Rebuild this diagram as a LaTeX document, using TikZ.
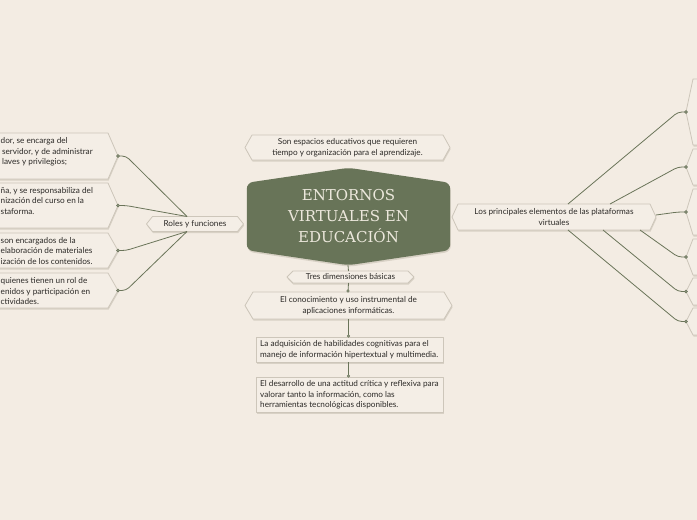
\documentclass[tikz,border=0pt]{standalone}
\usepackage{fontspec}
\setmainfont{Lato}
\newfontfamily\titlefont{DejaVu Serif}
\usetikzlibrary{positioning}
\definecolor{bgc}{HTML}{F3ECE3}
\definecolor{boxfill}{HTML}{F4EEE6}
\definecolor{boxdraw}{HTML}{CDC6BA}
\definecolor{shadowc}{HTML}{D8D1C5}
\definecolor{olive}{HTML}{6A7459}
\definecolor{central}{HTML}{687458}
\definecolor{titlec}{HTML}{ECE8DC}
\definecolor{textc}{HTML}{2C2A27}
\pgfdeclarelayer{bgl}
\pgfdeclarelayer{shp}
\pgfsetlayers{bgl,shp,main}
\newcommand\hexshape[2]{%
  \begin{pgfonlayer}{shp}
  \path[fill=shadowc,transform canvas={xshift=0.6pt,yshift=-1.6pt}] (#1.west) -- ([xshift=#2pt]#1.north west) -- ([xshift=-#2pt]#1.north east) -- (#1.east) -- ([xshift=-#2pt]#1.south east) -- ([xshift=#2pt]#1.south west) -- cycle;
  \path[boxst] (#1.west) -- ([xshift=#2pt]#1.north west) -- ([xshift=-#2pt]#1.north east) -- (#1.east) -- ([xshift=-#2pt]#1.south east) -- ([xshift=#2pt]#1.south west) -- cycle;
  \end{pgfonlayer}}
\newcommand\rectshape[1]{%
  \begin{pgfonlayer}{shp}
  \path[fill=shadowc,transform canvas={xshift=0.6pt,yshift=-1.6pt}] (#1.north west) rectangle (#1.south east);
  \path[boxst] (#1.north west) rectangle (#1.south east);
  \end{pgfonlayer}}
\begin{document}
\begin{tikzpicture}[x=1pt,y=-1pt,
  boxst/.style={fill=boxfill,draw=boxdraw,line width=0.8pt,line join=round},
  frame/.style={inner sep=0pt,outer sep=0pt,align=center,text=textc,font=\fontsize{8.2}{10.5}\selectfont},
  lefttext/.style={inner sep=0pt,anchor=west,align=left,text=textc,font=\fontsize{8.2}{10.5}\selectfont},
  conn/.style={draw=olive,line width=0.8pt,rounded corners=4pt},
  dotst/.style={fill=olive!75,draw=olive,line width=0.4pt}]
\begin{pgfonlayer}{bgl}
\fill[bgc] (0,0) rectangle (697,520);
\end{pgfonlayer}
\useasboundingbox (0,0) rectangle (697,520);

% central
\node[inner sep=0pt,minimum width=203pt,minimum height=97pt,align=center,text=titlec,font=\titlefont\fontsize{15}{21}\selectfont] (c) at (348.5,216.5) {ENTORNOS\\VIRTUALES EN\\EDUCACIÓN};
\begin{pgfonlayer}{shp}
\path[fill=shadowc,rounded corners=6pt,transform canvas={xshift=0.6pt,yshift=-1.6pt}] (c.north) -- ([yshift=-15pt]c.north east) -- ([yshift=15pt]c.south east) -- (c.south) -- ([yshift=15pt]c.south west) -- ([yshift=-15pt]c.north west) -- cycle;
\path[fill=central,rounded corners=6pt] (c.north) -- ([yshift=-15pt]c.north east) -- ([yshift=15pt]c.south east) -- (c.south) -- ([yshift=15pt]c.south west) -- ([yshift=-15pt]c.north west) -- cycle;
\end{pgfonlayer}

% top
\node[frame,minimum width=205pt,minimum height=25pt] (top) at (347.5,147.5) {Son espacios educativos que requieren\\tiempo y organización para el aprendizaje.};
\hexshape{top}{7}

% roles
\node[frame,minimum width=97pt,minimum height=15pt] (roles) at (195,224) {Roles y funciones};
\hexshape{roles}{6}

% principales
\node[frame,minimum width=204pt,minimum height=26pt] (lp) at (554,217) {Los principales elementos de las plataformas\\virtuales};
\hexshape{lp}{6}

% tres dimensiones
\node[frame,minimum width=127pt,minimum height=12pt] (tres) at (350.5,277) {Tres dimensiones básicas};
\hexshape{tres}{6}

\node[frame,minimum width=207pt,minimum height=27pt] (conoc) at (348.5,305.5) {El conocimiento y uso instrumental de\\aplicaciones informáticas.};
\hexshape{conoc}{8}

\node[frame,minimum width=187pt,minimum height=25pt] (adq) at (349.5,349.5) {};
\node[lefttext] (adqt) at (260,349.5) {La adquisición de habilidades cognitivas para el\\manejo de información hipertextual y multimedia.};
\rectshape{adq}

\node[frame,minimum width=187pt,minimum height=35pt] (des) at (349.5,394.5) {};
\node[lefttext] (dest) at (260,395) {El desarrollo de una actitud crítica y reflexiva para\\valorar tanto la información, como las\\herramientas tecnológicas disponibles.};
\rectshape{des}

% left boxes
\node[frame,minimum width=178pt,minimum height=46pt] (l1) at (29,156) {};
\node[lefttext] (l1t) at (0.5,152) {dor, se encarga del\\ \,servidor, y de administrar\\ \,laves y privilegios;};
\hexshape{l1}{10}
\node[frame,minimum width=178pt,minimum height=45pt] (l2) at (29,205.5) {};
\node[lefttext] (l2t) at (0.5,201) {ña, y se responsabiliza del\\nización del curso en la\\staforma.};
\hexshape{l2}{10}
\node[frame,minimum width=178pt,minimum height=35pt] (l3) at (29,250.5) {};
\node[lefttext] (l3t) at (0.5,251) {son encargados de la\\elaboración de materiales\\ización de los contenidos.};
\hexshape{l3}{10}
\node[frame,minimum width=178pt,minimum height=35pt] (l4) at (29,290.5) {};
\node[lefttext] (l4t) at (0.5,291.5) {quienes tienen un rol de\\enidos y participación en\\ctividades.};
\hexshape{l4}{10}

% right boxes
\node[frame,minimum width=214pt,minimum height=66pt] (r1) at (793,112) {};
\hexshape{r1}{7}
\node[frame,minimum width=214pt,minimum height=36pt] (r2) at (793,167) {};
\hexshape{r2}{7}
\node[frame,minimum width=214pt,minimum height=46pt] (r3) at (793,212) {};
\hexshape{r3}{7}
\node[frame,minimum width=214pt,minimum height=36pt] (r4) at (793,257) {};
\hexshape{r4}{7}
\node[frame,minimum width=214pt,minimum height=27pt] (r5) at (793,291.5) {};
\hexshape{r5}{7}
\node[frame,minimum width=214pt,minimum height=27pt] (r6) at (793,321.5) {};
\hexshape{r6}{7}

% connectors left
\draw[conn] (l1.east) -- ++(8,0) -- ([xshift=-8pt]roles.north);
\draw[conn] (l2.east) -- ++(8,0) -- ([xshift=-8pt]roles.north);
\draw[conn] (l3.east) -- ++(8,0) -- ([xshift=-8pt]roles.south);
\draw[conn] (l4.east) -- ++(8,0) -- ([xshift=-8pt]roles.south);
\foreach \n in {l1,l2,l3,l4} {\path[dotst] (\n.east) circle (1.5pt);}

% connectors right
\draw[conn] (r1.west) -- ++(-8,0) -- ([xshift=14pt]lp.north);
\draw[conn] (r2.west) -- ++(-8,0) -- ([xshift=56pt]lp.north);
\draw[conn] (r3.west) -- ++(-8,0) -- ([yshift=2pt]lp.east);
\draw[conn] (r4.west) -- ++(-8,0) -- ([xshift=86pt]lp.south);
\draw[conn] (r5.west) -- ++(-8,0) -- ([xshift=49pt]lp.south);
\draw[conn] (r6.west) -- ++(-8,0) -- ([xshift=14pt]lp.south);
\foreach \n in {r1,r2,r3,r4,r5,r6} {\path[dotst] (\n.west) circle (1.5pt);}

% bottom chain
\draw[conn] ([xshift=-0.5pt]c.south) -- ([xshift=-2pt]tres.north);
\draw[conn] ([xshift=-2pt]tres.south) -- ([xshift=-0.5pt]conoc.north);
\draw[conn] (conoc.south) -- ([xshift=-1pt]adq.north);
\draw[conn] ([xshift=-1pt]adq.south) -- ([xshift=-1pt]des.north);
\path[dotst] ([xshift=-0.5pt,yshift=1pt]conoc.north) circle (1.3pt);
\path[dotst] ([xshift=-1pt,yshift=1pt]adq.north) circle (1.3pt);
\path[dotst] ([xshift=-1pt,yshift=1pt]des.north) circle (1.3pt);
\end{tikzpicture}
\end{document}
